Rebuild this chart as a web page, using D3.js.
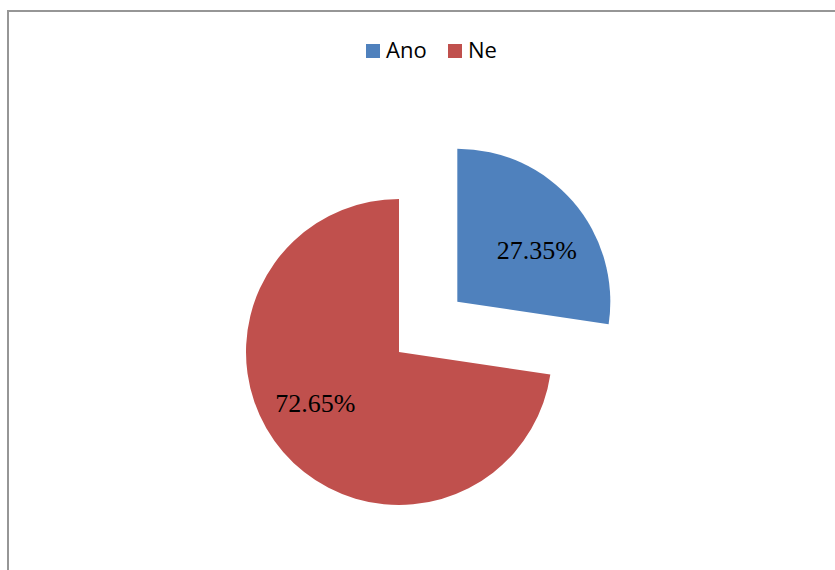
<!DOCTYPE html>
<html><head><meta charset="utf-8">
<script src="https://cdn.jsdelivr.net/npm/d3@7"></script>
<style>body{margin:0;background:#fff}svg{display:block}</style>
</head><body>
<svg id="c" width="835" height="570"></svg>
<script>
const categories = ["Ano", "Ne"];
const values = [27.35, 72.65];
const labels = ["27.35%", "72.65%"];
const colors = ["#4F81BD", "#C0504D"];
const explode = [77, 0];

const svg = d3.select("#c");
// chart border (extends past right/bottom edge)
svg.append("rect").attr("x", 8).attr("y", 11).attr("width", 900).attr("height", 700)
  .attr("fill", "none").attr("stroke", "#969696").attr("stroke-width", 2);

const cx = 399, cy = 352, r = 153;
const pie = d3.pie().sort(null).value(d => d)(values);
const arc = d3.arc().innerRadius(0).outerRadius(r);
const g = svg.append("g").attr("transform", `translate(${cx},${cy})`);

pie.forEach((p, i) => {
  const mid = (p.startAngle + p.endAngle) / 2;
  const dx = Math.sin(mid) * explode[i], dy = -Math.cos(mid) * explode[i];
  const sg = g.append("g").attr("transform", `translate(${dx},${dy})`);
  sg.append("path").attr("d", arc(p)).attr("fill", colors[i]);
  const la = mid + 0.15, lr = r * 0.63;
  sg.append("text").attr("x", Math.sin(la) * lr - 2).attr("y", -Math.cos(la) * lr)
    .attr("text-anchor", "middle").attr("dy", "0.35em")
    .attr("font-family", "Liberation Serif, Times New Roman, serif").attr("font-size", 26)
    .attr("fill", "#000").text(labels[i]);
});

// legend
const leg = svg.append("g").attr("transform", "translate(366,44)");
const offs = [0, 82];
categories.forEach((c, i) => {
  const lg = leg.append("g").attr("transform", `translate(${offs[i]},0)`);
  lg.append("rect").attr("width", 14).attr("height", 14).attr("fill", colors[i]);
  lg.append("text").attr("x", 20).attr("y", 14).attr("font-family", "Open Sans, sans-serif")
    .attr("font-size", 22).attr("fill", "#000").text(c);
});
</script>
</body></html>
